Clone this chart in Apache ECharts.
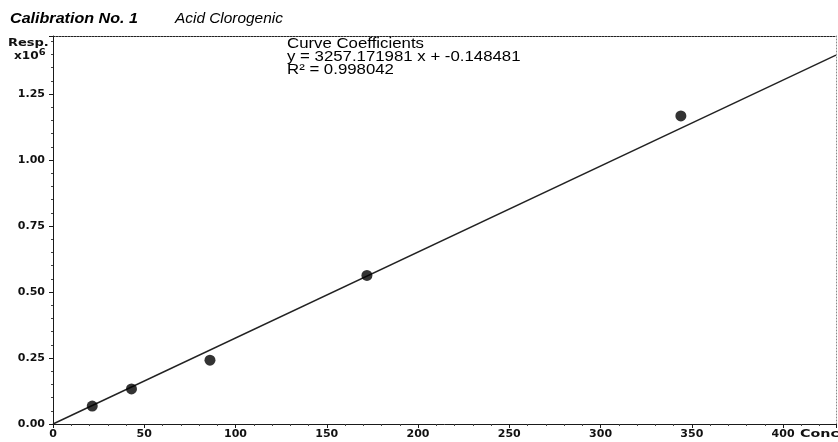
<!DOCTYPE html>
<html>
<head>
<meta charset="utf-8">
<title>Calibration No. 1 – Acid Clorogenic</title>
<script src="https://cdn.jsdelivr.net/npm/echarts@6/dist/echarts.min.js"></script>
<style>
  html, body { margin: 0; padding: 0; background: #fff; }
  #chart { width: 838px; height: 442px; }
</style>
</head>
<body>
<div id="chart"></div>
<script>
// Calibration standards: concentration and measured response (×10^6)
const concentrations = [21.5, 43, 86, 172, 344];
const responses = [0.068, 0.133, 0.242, 0.563, 1.167];

// Linear fit of the standards (response in raw units)
const fitSlope = 3257.171981;
const fitIntercept = -0.148481;
const rSquared = 0.998042;
const responseScale = 1e6;

// Axis ranges and tick steps
const concMax = 429;
const concStep = 50;
const respMax = 1.47;
const respStep = 0.25;

const points = concentrations.map((c, i) => [c, responses[i]]);
const fitAt = c => (fitSlope * c + fitIntercept) / responseScale;
const fitLine = [[0, fitAt(0)], [concMax, fitAt(concMax)]];

const labelFont = { fontFamily: 'DejaVu Sans', fontWeight: 'bold', fontSize: 11, color: '#111' };

const chart = echarts.init(document.getElementById('chart'), null, { renderer: 'canvas' });
chart.setOption({
  animation: false,
  backgroundColor: '#ffffff',
  grid: { left: 53, right: 2, top: 36, bottom: 18, containLabel: false },
  xAxis: [
    {
      type: 'value', position: 'bottom', min: 0, max: concMax, interval: concStep,
      axisLine: { onZero: false, lineStyle: { color: '#1a1a1a', width: 1 } },
      axisTick: { show: true, inside: false, length: 4, lineStyle: { color: '#1a1a1a' } },
      minorTick: { show: true, splitNumber: 5, length: 2, lineStyle: { color: '#444' } },
      axisLabel: Object.assign({ margin: 5, showMaxLabel: false }, labelFont),
      splitLine: { show: false }
    },
    {
      // frame edge along the top of the plot
      type: 'value', position: 'top', min: 0, max: concMax,
      axisLine: { show: true, onZero: false, lineStyle: { color: '#222', width: 1, type: [2, 1] } },
      axisTick: { show: false }, axisLabel: { show: false }, splitLine: { show: false }
    }
  ],
  yAxis: [
    {
      type: 'value', position: 'left', min: 0, max: respMax, interval: respStep,
      axisLine: { show: true, onZero: false, lineStyle: { color: '#1a1a1a', width: 1 } },
      axisTick: { show: true, inside: false, length: 4, lineStyle: { color: '#1a1a1a' } },
      minorTick: { show: true, splitNumber: 5, length: 2, lineStyle: { color: '#444' } },
      axisLabel: Object.assign({ margin: 8, showMaxLabel: false, formatter: v => v.toFixed(2) }, labelFont),
      splitLine: { show: false }
    },
    {
      // frame edge along the right of the plot
      type: 'value', position: 'right', min: 0, max: respMax,
      axisLine: { show: true, onZero: false, lineStyle: { color: '#888', width: 1, type: [1, 2] } },
      axisTick: { show: false }, axisLabel: { show: false }, splitLine: { show: false }
    }
  ],
  series: [
    {
      name: 'Fit', type: 'line', data: fitLine, showSymbol: false, silent: true,
      lineStyle: { color: '#222', width: 1.4 }, z: 2
    },
    {
      name: 'Standards', type: 'scatter', data: points, symbol: 'circle', symbolSize: 11,
      itemStyle: { color: '#000' }, z: 3
    }
  ],
  graphic: [
    {
      type: 'text', x: 10, y: 19, scaleX: 1.15,
      style: { text: 'Calibration No. 1', font: 'italic bold 14px "Liberation Sans"', fill: '#000', textVerticalAlign: 'middle' }
    },
    {
      type: 'text', x: 175, y: 19, scaleX: 1.1,
      style: { text: 'Acid Clorogenic', font: 'italic 14px "Liberation Sans"', fill: '#000', textVerticalAlign: 'middle' }
    },
    {
      type: 'text', x: 8, y: 43, scaleX: 1.3,
      style: { text: 'Resp.', font: 'bold 10px "DejaVu Sans"', fill: '#111', textVerticalAlign: 'middle' }
    },
    {
      type: 'text', x: 14, y: 56, scaleX: 1.1,
      style: {
        text: 'x10{sup|6}', font: 'bold 11px "DejaVu Sans"', fill: '#111', textVerticalAlign: 'middle',
        rich: { sup: { fontSize: 9, fontWeight: 'bold', fontFamily: 'DejaVu Sans', verticalAlign: 'top', padding: [0, 0, 7, 0] } }
      }
    },
    {
      type: 'text', x: 800, y: 434, scaleX: 1.3,
      style: { text: 'Conc.', font: 'bold 11px "DejaVu Sans"', fill: '#111', textVerticalAlign: 'middle' }
    },
    {
      type: 'text', x: 287, y: 44, scaleX: 1.2,
      style: { text: 'Curve Coefficients', font: '14px "Liberation Sans"', fill: '#000', textVerticalAlign: 'middle' }
    },
    {
      type: 'text', x: 287, y: 57, scaleX: 1.2,
      style: { text: 'y = ' + fitSlope.toFixed(6) + ' x + ' + fitIntercept.toFixed(6), font: '14px "Liberation Sans"', fill: '#000', textVerticalAlign: 'middle' }
    },
    {
      type: 'text', x: 287, y: 70, scaleX: 1.2,
      style: { text: 'R\u00b2 = ' + rSquared.toFixed(6), font: '14px "Liberation Sans"', fill: '#000', textVerticalAlign: 'middle' }
    }
  ]
});
</script>
</body>
</html>
